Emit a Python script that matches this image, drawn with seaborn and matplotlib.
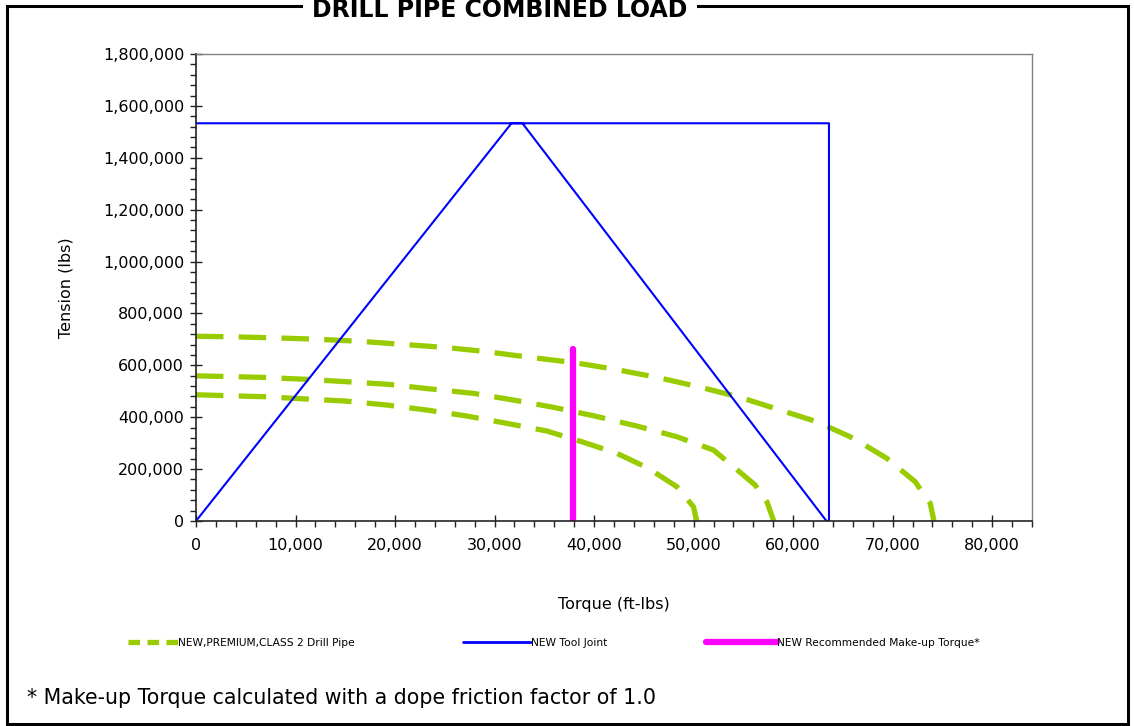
"""Drill pipe combined load chart."""
import matplotlib.patches as patches
import matplotlib.pyplot as plt
import seaborn as sns
from matplotlib.lines import Line2D
from matplotlib.ticker import FuncFormatter, MultipleLocator

# NEW drill pipe curve (top)
new_torque = [0, 3720, 7740, 11960, 16480, 20670, 25030, 28880, 33570, 38090,
              42110, 46300, 50480, 54670, 58360, 62380, 66060, 69410, 72260,
              73770, 74150]
new_tension = [712000, 710000, 706000, 701000, 692500, 681000, 669000, 654000,
               630800, 610000, 584600, 553800, 517600, 476700, 431600, 382700,
               318700, 241600, 151400, 68200, 0]

# PREMIUM drill pipe curve (middle)
premium_torque = [0, 6600, 11120, 15140, 19330, 23350, 27870, 31890, 35910,
                  39930, 44290, 48310, 51990, 54000, 56180, 57360, 58050]
premium_tension = [559500, 553800, 546000, 536800, 526700, 509800, 492000,
                   466300, 438200, 405800, 366100, 324900, 273600, 209300,
                   138700, 74400, 0]

# CLASS 2 drill pipe curve (bottom)
class2_torque = [0, 6930, 11120, 14970, 19160, 23190, 27210, 31220, 35250,
                 38760, 42280, 45460, 48310, 49980, 50320]
class2_tension = [486500, 479000, 470100, 462400, 447000, 427700, 404600,
                  376500, 346800, 305600, 260900, 203100, 132200, 55100, 0]

# NEW tool joint envelope
tool_joint_torque = [0, 31700, 32800, 63350, 63600, 63600, 0]
tool_joint_tension = [0, 1533000, 1533000, 0, 0, 1533000, 1533000]

# Recommended make-up torque
makeup_torque = [37900, 37900]
makeup_tension = [0, 662000]

legend_labels = [
    "NEW,PREMIUM,CLASS 2 Drill Pipe",
    "NEW Tool Joint",
    "NEW Recommended Make-up Torque*",
]

GREEN = "#99cc00"
BLUE = "#0000ff"
MAGENTA = "#ff00ff"

sns.set_style("ticks")
plt.rcParams["font.family"] = ["DejaVu Sans"]
plt.rcParams["text.color"] = "black"
plt.rcParams["axes.labelcolor"] = "black"

fig = plt.figure(figsize=(11.34, 7.26), dpi=100)
ax = fig.add_axes([196 / 1134, 1 - 521 / 726, 836 / 1134, 467 / 726])

# Drill pipe curves
for xs, ys in [(new_torque, new_tension),
               (premium_torque, premium_tension),
               (class2_torque, class2_tension)]:
    sns.lineplot(x=xs, y=ys, ax=ax, sort=False, estimator=None,
                 color=GREEN, linewidth=3.8)
    # long dashes, short gaps (units of line width)
    ax.lines[-1].set_linestyle((0, (5.2, 2.9)))

# Tool joint
sns.lineplot(x=tool_joint_torque, y=tool_joint_tension, ax=ax, sort=False,
             estimator=None, color=BLUE, linewidth=1.5)

# Make-up torque
sns.lineplot(x=makeup_torque, y=makeup_tension, ax=ax, sort=False,
             estimator=None, color=MAGENTA, linewidth=4.5,
             solid_capstyle="round")

ax.set_xlim(0, 84000)
ax.set_ylim(0, 1800000)
ax.xaxis.set_major_locator(MultipleLocator(10000))
ax.xaxis.set_minor_locator(MultipleLocator(2000))
ax.yaxis.set_major_locator(MultipleLocator(200000))
ax.yaxis.set_minor_locator(MultipleLocator(40000))
comma = FuncFormatter(lambda v, _: f"{int(v):,}")
ax.xaxis.set_major_formatter(comma)
ax.yaxis.set_major_formatter(comma)

ax.tick_params(which="major", direction="inout", length=9, width=1,
               color="#222222", labelsize=11.5, labelcolor="black")
ax.tick_params(which="minor", direction="out", length=4, width=1,
               color="#222222")
ax.tick_params(axis="x", which="major", pad=8)
ax.tick_params(axis="y", which="major", pad=4)

for side in ["left", "bottom"]:
    ax.spines[side].set_color("#222222")
    ax.spines[side].set_linewidth(1.2)
for side in ["top", "right"]:
    ax.spines[side].set_visible(True)
    ax.spines[side].set_color("#808080")
    ax.spines[side].set_linewidth(1.0)

ax.set_xlabel("Torque (ft-lbs)", fontsize=11.5)
ax.set_ylabel("Tension (lbs)", fontsize=11.5)
ax.xaxis.set_label_coords(0.5, -0.163)
ax.yaxis.set_label_coords(-0.146, 0.5)

# Legend entries placed in a row under the plot
handles = [
    Line2D([], [], color=GREEN, linewidth=3.8, linestyle=(0, (2.2, 1.4))),
    Line2D([], [], color=BLUE, linewidth=2.0),
    Line2D([], [], color=MAGENTA, linewidth=4.5, solid_capstyle="round"),
]
starts = [128, 463, 706]
lengths = [4.7, 6.4, 6.6]
for h, lab, x0, hl in zip(handles, legend_labels, starts, lengths):
    fig.legend(handles=[h], labels=[lab], loc="center left",
               bbox_to_anchor=(x0 / 1134, 1 - 643 / 726),
               frameon=False, fontsize=7.7, handlelength=hl,
               handletextpad=0.0, borderpad=0, borderaxespad=0)

fig.text(27 / 1134, 1 - 698 / 726,
         "* Make-up Torque calculated with a dope friction factor of 1.0",
         fontsize=14.8, ha="left", va="center")

# Outer frame with title breaking the top edge
frame = patches.Rectangle((6.5 / 1134, 2.5 / 726), 1121 / 1134, 718 / 726,
                          transform=fig.transFigure, fill=False,
                          edgecolor="black", linewidth=2.2)
fig.add_artist(frame)
fig.text(500 / 1134, 1 - 10 / 726, "DRILL PIPE COMBINED LOAD",
         fontsize=17, fontweight="bold", ha="center", va="center",
         bbox=dict(facecolor="white", edgecolor="none", pad=6.5))

fig.savefig("out.png", dpi=100)
